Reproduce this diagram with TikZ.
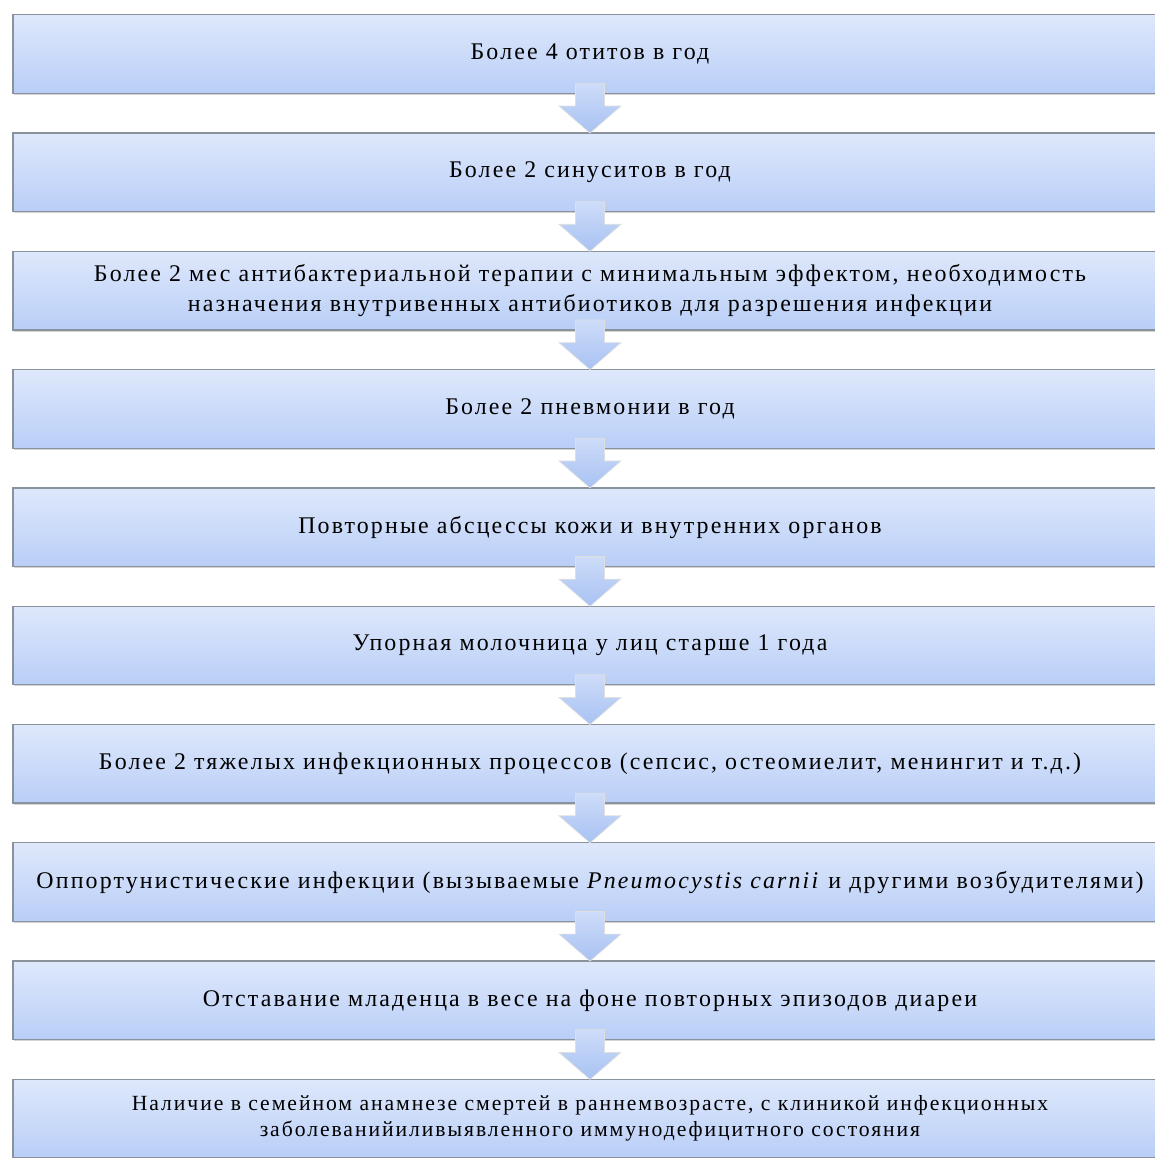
\documentclass[tikz,border=0pt]{standalone}
\usepackage{fontspec}
\setmainfont{Liberation Serif}[LetterSpace=9]
\usepackage{xcolor}
\usepackage{tikz}
\usetikzlibrary{arrows.meta,calc,positioning,shadows}
\definecolor{boxtop}{RGB}{222,232,251}
\definecolor{boxbot}{RGB}{185,206,247}
\definecolor{boxline}{RGB}{138,146,158}
\definecolor{arrtop}{RGB}{205,220,249}
\definecolor{arrbot}{RGB}{168,194,242}
\tikzset{
  signBox/.style={draw=boxline, line width=0.9pt, top color=boxtop, bottom color=boxbot,
    minimum width=28.85cm, minimum height=1.965cm, outer sep=0pt, inner sep=2pt,
    align=center, font=\fontsize{17}{21.3}\selectfont,
    drop shadow={shadow xshift=0.4pt, shadow yshift=-1.2pt, opacity=0.35}},
  lastBox/.style={signBox, font=\fontsize{15.4}{18.5}\selectfont},   % smaller text at the end
  flowArrow/.style={draw=white!75!gray, line width=0.5pt, top color=arrtop, bottom color=arrbot}
}
% fat down arrow from the bottom of one box to the top of the next
\newcommand{\FlowArrow}[2]{%
  \path[flowArrow] ($(#1.south)+(-0.3625,0.25)$) -- ($(#1.south)+(0.3625,0.25)$)
    -- ($(#2.north)+(0.3625,0.675)$) -- ($(#2.north)+(0.775,0.675)$) -- (#2.north)
    -- ($(#2.north)+(-0.775,0.675)$) -- ($(#2.north)+(-0.3625,0.675)$) -- cycle;%
}

\begin{document}
\begin{tikzpicture}[node distance=0.9925cm]
  \useasboundingbox (0,0) rectangle (28.85,-28.95);
  % the ten boxes, top to bottom
  \node[signBox] (s1) at (14.75,-1.35) {Более 4 отитов в год};
  \node[signBox, below=of s1] (s2) {Более 2 синуситов в год};
  \node[signBox, below=of s2] (s3) {Более 2 мес антибактериальной терапии с минимальным эффектом, необходимость\\назначения внутривенных антибиотиков для разрешения инфекции};
  \node[signBox, below=of s3] (s4) {Более 2 пневмонии в год};
  \node[signBox, below=of s4] (s5) {Повторные абсцессы кожи и внутренних органов};
  \node[signBox, below=of s5] (s6) {Упорная молочница у лиц старше 1 года};
  \node[signBox, below=of s6] (s7) {Более 2 тяжелых инфекционных процессов (сепсис, остеомиелит, менингит и т.д.)};
  \node[signBox, below=of s7] (s8) {Оппортунистические инфекции (вызываемые \textit{Pneumocystis carnii} и другими возбудителями)};
  \node[signBox, below=of s8] (s9) {Отставание младенца в весе на фоне повторных эпизодов диареи};
  \node[lastBox, below=of s9] (s10) {Наличие в семейном анамнезе смертей в раннемвозрасте, с клиникой инфекционных\\заболеванийиливыявленного иммунодефицитного состояния};
  % arrows between them
  \foreach \a [evaluate=\a as \b using int(\a+1)] in {1,...,9}{
    \FlowArrow{s\a}{s\b}
  }
\end{tikzpicture}
\end{document}
